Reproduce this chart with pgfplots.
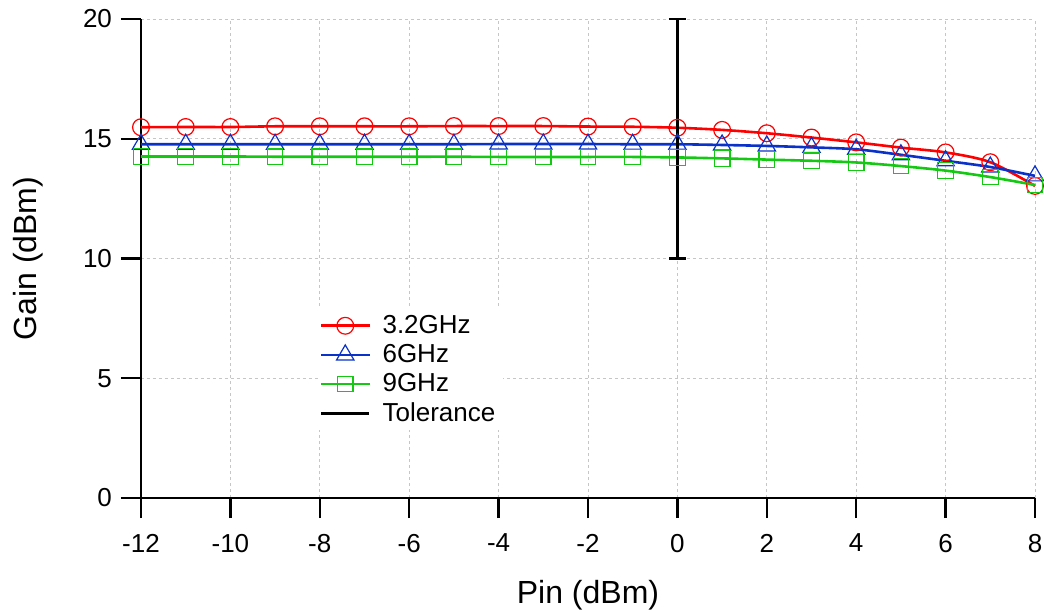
\documentclass[border=0pt]{standalone}
\usepackage{pgfplots}
\pgfplotsset{compat=1.18}
\usepackage{fontspec}
\setmainfont{Liberation Sans}
\definecolor{cred}{RGB}{255,0,0}
\definecolor{cblue}{RGB}{10,50,200}
\definecolor{cgreen}{RGB}{20,200,20}
\begin{document}
\begin{tikzpicture}
\begin{axis}[
  name=ax,
  scale only axis,
  width=447pt, height=239.5pt,
  xmin=-12, xmax=8, ymin=0, ymax=20,
  axis lines=left,
  axis line style={line width=1.2pt, -},
  xtick={-12,-10,...,8},
  ytick={0,5,10,15,20},
  tick align=outside,
  major tick length=10pt,
  tick style={line width=1.2pt, black},
  grid=major,
  major grid style={dash pattern=on 1.5pt off 1.5pt, gray!45, line width=0.45pt},
  tick label style={font=\fontsize{13}{15}\selectfont},
  /pgf/number format/assume math mode=true,
  xticklabel style={yshift=-4.5pt},
  yticklabel style={xshift=-1pt},
  xlabel={Pin (dBm)},
  ylabel={Gain (dBm)},
  label style={font=\fontsize{16}{19}\selectfont},
  xlabel style={at={(axis description cs:0.5,0)}, anchor=center, yshift=-48.5pt},
  ylabel style={at={(axis description cs:0,0.5)}, anchor=center, yshift=56.5pt},
  clip=false,
  legend cell align=left,
  legend style={at={(axis cs:-8.05,7.9)}, anchor=north west, draw=none, fill=white,
    font=\fontsize{13}{15}\selectfont, inner sep=1pt, row sep=0pt,
    nodes={inner xsep=3pt},
    /tikz/every odd column/.append style={column sep=3pt}},
  legend image code/.code={\draw[mark repeat=2,mark phase=2,#1] plot coordinates {(0pt,0pt) (12pt,0pt) (24pt,0pt)};},
]
\addplot[cred, line width=1.3pt, smooth, mark=o, mark size=4.2pt, mark options={line width=0.6pt, fill=none, solid}] coordinates {
(-12,15.48) (-11,15.49) (-10,15.49) (-9,15.52) (-8,15.52) (-7,15.52) (-6,15.52) (-5,15.53) (-4,15.53) (-3,15.53) (-2,15.51) (-1,15.50) (0,15.46) (1,15.37) (2,15.23) (3,15.05) (4,14.85) (5,14.63) (6,14.43) (7,14.02) (8,13.03)};
\addlegendentry{3.2GHz}
\addplot[cblue, line width=1.3pt, smooth, mark=triangle, mark size=5pt, mark options={line width=0.6pt, fill=none, solid}] coordinates {
(-12,14.77) (-11,14.77) (-10,14.77) (-9,14.77) (-8,14.77) (-7,14.77) (-6,14.77) (-5,14.77) (-4,14.78) (-3,14.78) (-2,14.78) (-1,14.77) (0,14.77) (1,14.74) (2,14.70) (3,14.64) (4,14.56) (5,14.33) (6,14.08) (7,13.82) (8,13.45)};
\addlegendentry{6GHz}
\addplot[cgreen, line width=1.3pt, smooth, mark=square, mark size=3.9pt, mark options={line width=0.6pt, fill=none, solid}] coordinates {
(-12,14.26) (-11,14.26) (-10,14.26) (-9,14.25) (-8,14.25) (-7,14.25) (-6,14.25) (-5,14.25) (-4,14.24) (-3,14.24) (-2,14.24) (-1,14.24) (0,14.22) (1,14.18) (2,14.13) (3,14.08) (4,14.01) (5,13.86) (6,13.67) (7,13.40) (8,13.07)};
\addlegendentry{9GHz}
\addplot[black, line width=1.3pt, mark=none,
  error bars/.cd, y dir=both, y explicit,
  error bar style={line width=1.3pt, black},
  error mark options={line width=1.2pt, black, mark size=4.25pt, rotate=90}] coordinates {(0,15) +- (0,5)};
\addlegendentry{Tolerance}
\end{axis}
\pgfresetboundingbox
\path (ax.south west) ++(-70.5pt,-56.5pt) rectangle ++(522pt,305.5pt);
\end{tikzpicture}
\end{document}
